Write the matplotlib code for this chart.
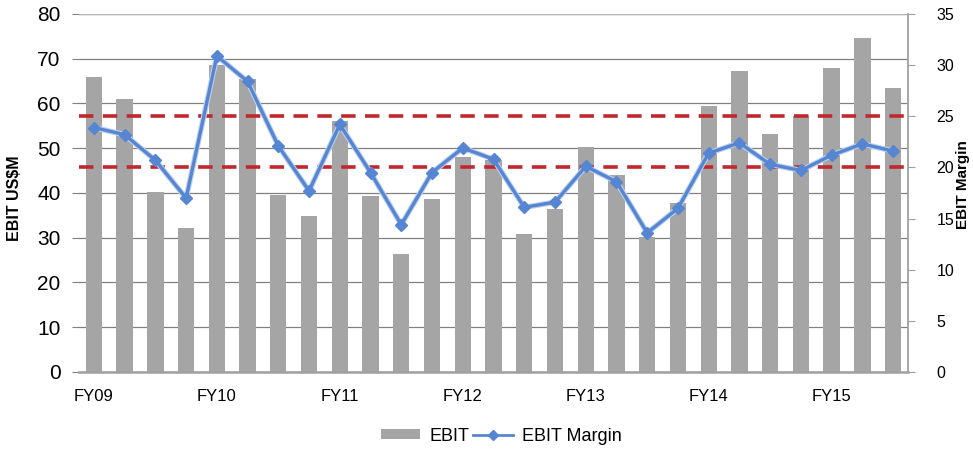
import matplotlib
matplotlib.use("Agg")
import matplotlib.pyplot as plt
import matplotlib.patheffects as pe
from matplotlib.lines import Line2D
from matplotlib.patches import Patch
import numpy as np

plt.rcParams['font.family'] = ['Liberation Sans', 'DejaVu Sans']

# Quarterly EBIT (US$M) and EBIT margin (%), FY09 Q1 .. FY15 Q3
ebit = [66.0, 61.0, 40.3, 32.2, 68.6, 65.5, 39.6, 34.9, 56.1, 39.4,
        26.3, 38.6, 48.0, 47.4, 30.8, 36.4, 50.3, 44.0, 30.1, 37.7,
        59.4, 67.3, 53.1, 57.1, 67.9, 74.7, 63.4]
margin = [23.9, 23.2, 20.7, 17.0, 30.9, 28.4, 22.1, 17.7, 24.2, 19.5,
          14.4, 19.5, 21.9, 20.8, 16.1, 16.6, 20.1, 18.6, 13.6, 16.0,
          21.4, 22.4, 20.3, 19.7, 21.2, 22.3, 21.6]
year_labels = ["FY09", "FY10", "FY11", "FY12", "FY13", "FY14", "FY15"]
band = [20, 25]  # target margin band

n = len(ebit)
x = np.arange(n)
tick_labels = [year_labels[i // 4] if i % 4 == 0 else "" for i in range(n)]

fig = plt.figure(figsize=(9.73, 4.51), dpi=100)
ax = fig.add_axes([0.0807, 0.1752, 0.853, 0.7938])
ax2 = ax.twinx()

bar_color = "#a5a5a5"
blue = "#5686d2"
red = "#c0282d"

ax.bar(x, ebit, width=0.53, color=bar_color, zorder=2)
ax.set_xlim(-0.5, n - 0.5)
ax.set_ylim(0, 80)
ax.set_yticks(np.arange(0, 81, 10))
ax.yaxis.grid(True, color="#808080", linewidth=0.9, zorder=0)
ax.set_axisbelow(True)
ax.set_xticks(x)
ax.set_xticklabels(tick_labels, fontsize=12)
ax.tick_params(axis="x", length=0, pad=12)
ax.tick_params(axis="y", labelsize=15, length=5, color="#808080", pad=8)
for side in ["left", "right", "top"]:
    ax.spines[side].set_visible(False)
ax.spines["bottom"].set_color("#a0a0a0")
ax.spines["bottom"].set_linewidth(1.8)
ax.axhline(80, color="#b5b5b5", linewidth=1.6, zorder=1)

for b in band:
    ax2.axhline(b, color=red, linewidth=2.6, dashes=(4, 2.6), zorder=3)
ax2.plot(x, margin, color=blue, linewidth=2.4, zorder=4,
         path_effects=[pe.Stroke(linewidth=4.0, foreground="#bcd0ee"), pe.Normal()])
ax2.plot(x, margin, linestyle="none", marker="D", markersize=6.5,
         color=blue, markeredgecolor=blue, zorder=5)
ax2.set_ylim(0, 35)
ax2.set_yticks(np.arange(0, 36, 5))
ax2.tick_params(axis="y", labelsize=11.5, length=5, color="#a0a0a0", pad=15)
for side in ["left", "top", "bottom"]:
    ax2.spines[side].set_visible(False)
ax2.spines["right"].set_color("#a0a0a0")
ax2.spines["right"].set_linewidth(1.3)

fig.text(15 / 973, 0.561, "EBIT US$M", rotation=90, fontsize=11.5,
         fontweight="bold", ha="center", va="center")
fig.text(963 / 973, 0.59, "EBIT Margin", rotation=90, fontsize=11,
         fontweight="bold", ha="center", va="center")

handles = [Patch(facecolor=bar_color, edgecolor="none"),
           Line2D([0], [0], color=blue, linewidth=2, marker="D", markersize=5)]
fig.legend(handles, ["EBIT", "EBIT Margin"], loc="center",
           bbox_to_anchor=(0.515, 0.033), ncol=2, frameon=False, fontsize=13,
           handlelength=2.2, handletextpad=0.5, columnspacing=0.2,
           handleheight=0.5)

fig.savefig("out.png", dpi=100)
